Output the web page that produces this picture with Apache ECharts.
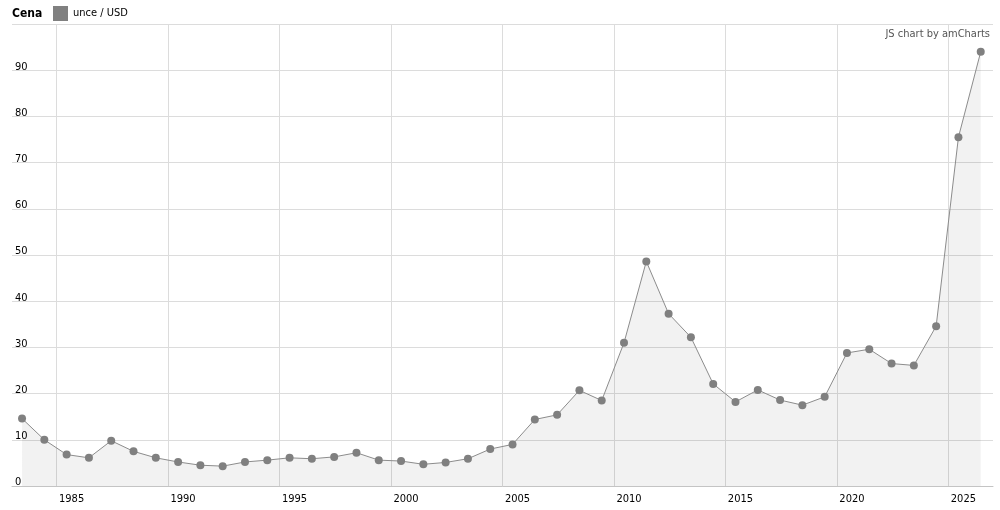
<!DOCTYPE html>
<html>
<head>
<meta charset="utf-8">
<script src="https://cdn.jsdelivr.net/npm/echarts@6/dist/echarts.min.js"></script>
<style>
html,body{margin:0;padding:0;background:#fff;}
#chart{width:1000px;height:510px;}
</style>
</head>
<body>
<div id="chart"></div>
<script>
var years = [1983,1984,1985,1986,1987,1988,1989,1990,1991,1992,1993,1994,1995,1996,1997,1998,1999,2000,2001,2002,2003,2004,2005,2006,2007,2008,2009,2010,2011,2012,2013,2014,2015,2016,2017,2018,2019,2020,2021,2022,2023,2024,2025,2026];
var prices = [14.6,10.0,6.8,6.1,9.8,7.5,6.1,5.2,4.5,4.3,5.2,5.6,6.1,5.9,6.3,7.2,5.6,5.4,4.7,5.1,5.9,8.0,9.0,14.4,15.4,20.7,18.5,31.0,48.6,37.3,32.2,22.1,18.2,20.8,18.6,17.5,19.3,28.8,29.6,26.5,26.1,34.6,75.5,94.0];
var seriesName = 'unce / USD';
var legendTitle = 'Cena';
var credit = 'JS chart by amCharts';

var FONT = "'DejaVu Sans Condensed', 'DejaVu Sans', Verdana, sans-serif";
var chart = echarts.init(document.getElementById('chart'), null, {renderer: 'canvas'});
var points = years.map(function (y, i) { return [y + 0.45, prices[i]]; });

chart.setOption({
  animation: false,
  backgroundColor: '#ffffff',
  textStyle: {fontFamily: FONT},
  title: {
    text: legendTitle,
    left: 12, top: 8, padding: 0,
    textStyle: {fontFamily: FONT, fontSize: 12, fontWeight: 'bold', color: '#000'}
  },
  legend: {
    data: [seriesName],
    left: 53, top: 6, padding: 0,
    icon: 'rect',
    itemWidth: 15, itemHeight: 15,
    textStyle: {fontFamily: FONT, fontSize: 11, color: '#000'},
    itemStyle: {color: '#808080'}
  },
  graphic: [{
    type: 'text',
    right: 10, top: 29,
    style: {text: credit, font: '11px ' + FONT, fill: '#555'}
  }],
  grid: {left: 12, right: 7, top: 24, bottom: 24, containLabel: false},
  xAxis: {
    type: 'value',
    min: 1983, max: 2027,
    minInterval: 5, maxInterval: 5,
    axisLine: {show: true, lineStyle: {color: '#c4c4c4', width: 1}},
    axisTick: {show: false},
    axisLabel: {
      color: '#000', fontFamily: FONT, fontSize: 11,
      showMinLabel: false, showMaxLabel: false,
      margin: 8,
      padding: [0, 0, 0, 30],
      formatter: function (v) { return String(v); }
    },
    splitLine: {show: true, showMinLine: false, showMaxLine: false, lineStyle: {color: '#dcdcdc', width: 1}}
  },
  yAxis: {
    type: 'value',
    min: 0, max: 100,
    interval: 10,
    axisLine: {show: false},
    axisTick: {show: false},
    axisLabel: {
      inside: true, margin: 3,
      align: 'left', verticalAlign: 'bottom',
      color: '#000', fontFamily: FONT, fontSize: 11,
      padding: [0, 0, -2, 0],
      showMaxLabel: false
    },
    splitLine: {show: true, lineStyle: {color: '#dcdcdc', width: 1}}
  },
  series: [{
    name: seriesName,
    type: 'line',
    data: points,
    symbol: 'circle',
    symbolSize: 8,
    showAllSymbol: true,
    itemStyle: {color: '#808080'},
    lineStyle: {color: '#8c8c8c', width: 1},
    areaStyle: {color: '#000000', opacity: 0.05}
  }]
});
</script>
</body>
</html>
